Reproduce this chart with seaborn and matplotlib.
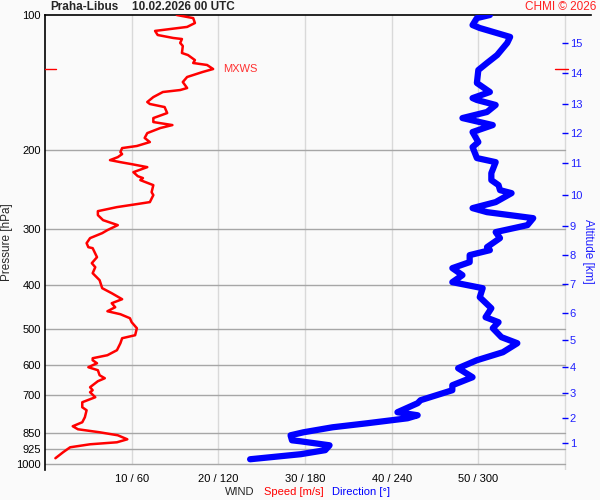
import numpy as np
import matplotlib
matplotlib.use('Agg')
import matplotlib.pyplot as plt
import seaborn as sns
from matplotlib.ticker import NullLocator

# wind speed profile (pressure hPa, speed m/s)
speed_pres = [100.0, 101.6, 104.2, 106.3, 108.5, 110.8, 112.5, 113.1, 115.4, 117.2,
              121.5, 122.8, 126.0, 127.9, 129.2, 131.9, 133.9, 137.4, 141.0, 145.4,
              146.9, 148.4, 152.3, 156.2, 157.8, 160.3, 165.3, 169.6, 173.1, 175.8,
              178.5, 183.2, 187.8, 191.8, 195.7, 197.8, 201.9, 204.0, 207.2, 210.4,
              212.6, 214.8, 218.1, 223.8, 228.4, 230.7, 233.1, 239.2, 248.0, 251.7,
              260.9, 263.6, 267.7, 273.3, 278.9, 286.2, 293.6, 301.2, 305.9, 313.8,
              322.0, 328.7, 330.4, 346.0, 356.8, 364.2, 375.6, 389.3, 405.6, 416.2,
              429.2, 438.1, 447.2, 456.5, 463.5, 473.1, 482.9, 498.0, 516.2, 524.2,
              537.8, 557.4, 571.9, 580.8, 586.8, 595.9, 608.2, 617.6, 633.7, 643.5,
              653.4, 673.8, 684.3, 691.3, 709.3, 727.8, 746.7, 758.3, 785.9, 806.4,
              823.1, 835.9, 848.9, 862.1, 880.0, 893.6, 902.8, 916.8, 940.0, 969.7]
speed = [15.2, 17.1, 17.3, 16.4, 12.7, 13.0, 14.8, 15.8, 15.6, 15.9,
         15.8, 16.5, 17.3, 17.1, 18.7, 19.4, 18.2, 16.4, 15.9, 16.4,
         15.6, 13.6, 12.5, 11.8, 12.1, 13.8, 14.1, 12.5, 12.5, 14.7,
         13.3, 11.8, 11.5, 12.1, 10.6, 8.9, 8.7, 8.9, 8.4, 7.5,
         8.7, 10.0, 11.8, 10.2, 10.7, 11.3, 11.0, 12.5, 12.3, 12.5,
         12.1, 10.6, 8.3, 6.1, 6.1, 6.7, 8.4, 7.2, 6.6, 5.2,
         4.8, 5.0, 5.5, 6.0, 5.4, 5.8, 5.5, 6.3, 6.6, 7.7,
         8.9, 7.7, 8.1, 7.2, 8.7, 9.8, 10.0, 10.6, 10.4, 8.9,
         8.7, 8.3, 7.2, 5.5, 5.5, 6.0, 5.0, 6.1, 6.3, 6.9,
         6.1, 5.2, 5.5, 5.2, 5.8, 4.3, 4.3, 4.8, 4.6, 4.3,
         3.2, 3.8, 6.3, 8.4, 9.5, 8.3, 5.2, 2.9, 2.1, 1.2]

# wind direction profile (pressure hPa, direction deg)
dir_pres = [100.0, 101.6, 105.3, 106.9, 111.9, 115.4, 122.8, 127.9, 132.6, 141.7,
            148.4, 153.1, 154.6, 158.6, 164.4, 169.6, 175.8, 182.2, 191.8, 196.8,
            208.2, 212.6, 224.9, 233.1, 239.2, 245.4, 249.2, 260.9, 269.1, 274.7,
            283.3, 293.6, 304.3, 313.8, 328.7, 333.8, 342.4, 354.9, 366.0, 379.4,
            393.3, 405.6, 424.8, 449.6, 470.7, 482.9, 498.0, 521.4, 537.8, 563.2,
            586.8, 611.3, 640.2, 667.1, 684.3, 720.2, 731.3, 766.0, 778.0, 790.1,
            810.6, 827.5, 848.9, 862.1, 884.6, 889.2, 907.5, 930.4, 949.9, 974.8]
direction = [308, 299, 296, 301, 322, 320, 313, 306, 300, 299,
             308, 296, 299, 312, 306, 289, 310, 296, 300, 296,
             299, 312, 309, 309, 314, 315, 323, 312, 296, 306,
             338, 334, 312, 315, 306, 308, 294, 294, 282, 289,
             282, 303, 301, 309, 305, 314, 310, 316, 327, 317,
             299, 286, 296, 282, 282, 260, 258, 244, 258, 251,
             223, 199, 179, 170, 171, 177, 197, 194, 177, 142]

pres_ticks = [100, 200, 300, 400, 500, 600, 700, 850, 925, 1000]
x_ticks = [10, 20, 30, 40, 50]
x_labels = ['10 / 60', '20 / 120', '30 / 180', '40 / 240', '50 / 300']
alt_km = [1, 2, 3, 4, 5, 6, 7, 8, 9, 10, 11, 12, 13, 14, 15]
alt_pres = [894.9, 787.0, 693.8, 607.3, 529.6, 461.7, 397.3, 342.4, 295.1, 251.7,
            213.9, 183.5, 157.8, 134.9, 115.6]
mxws_pres = 131.9
mxws_speed = 19.4

sns.set_style('white')
plt.rcParams['font.family'] = ['Liberation Sans', 'DejaVu Sans']

BG = '#fafafa'
fig = plt.figure(figsize=(6, 5), dpi=100, facecolor=BG)
ax = fig.add_axes([45 / 600, 1 - 470 / 500, 546 / 600, 455 / 500])
ax.set_facecolor(BG)
ax.set_yscale('log')
ax.set_ylim(1030, 100)
ax.set_xlim(0, 63)

# grid
for x in x_ticks:
    ax.plot([x, x], [1000, 100], color='#d9d9d9', lw=1, zorder=1)
ax.plot([60, 60], [1030, 100], color='#d9d9d9', lw=1, zorder=1)
for p in pres_ticks[1:]:
    ax.plot([0, 60], [p, p], color='#a6a6a6', lw=1, zorder=1)

# direction (scaled to speed axis: 6 deg per m/s)
sns.lineplot(x=np.array(direction) / 6.0, y=dir_pres, sort=False, estimator=None,
             color='#0000ff', lw=4.5, ax=ax, zorder=3,
             solid_capstyle='round', solid_joinstyle='round')
sns.lineplot(x=speed, y=speed_pres, sort=False, estimator=None,
             color='#ff0000', lw=1.8, ax=ax, zorder=4,
             solid_joinstyle='round')

# MXWS marks
ax.plot([0, 1.3], [mxws_pres, mxws_pres], color='#ff0000', lw=1, clip_on=False, zorder=5)
ax.plot([58.8, 60.4], [mxws_pres, mxws_pres], color='#ff0000', lw=1, clip_on=False, zorder=5)
ax.text(mxws_speed + 1.1, mxws_pres, 'MXWS', color='#ff3030', fontsize=8,
        va='center', ha='left')

ax.yaxis.set_minor_locator(NullLocator())
ax.set_yticks(pres_ticks, labels=[str(p) for p in pres_ticks])
ax.set_xticks(x_ticks, labels=x_labels)
ax.tick_params(axis='both', length=0, labelsize=8, colors='black')
ax.tick_params(axis='y', pad=3)
ax.tick_params(axis='x', pad=3)
ax.set_ylabel('Pressure [hPa]', fontsize=8.5)
ax.yaxis.set_label_coords(-0.058, 0.5)
ax.set_xlabel('')
for side in ['right', 'bottom']:
    ax.spines[side].set_visible(False)
ax.spines['left'].set_color('black')
ax.spines['top'].set_color('black')
ax.spines['left'].set_linewidth(1.2)
ax.spines['top'].set_linewidth(1.2)

# altitude axis
ax2 = ax.twinx()
ax2.set_yscale('log')
ax2.set_ylim(1030, 100)
ax2.yaxis.set_minor_locator(NullLocator())
ax2.spines['right'].set_position(('data', 60))
for side in ax2.spines:
    ax2.spines[side].set_visible(False)
ax2.set_yticks(alt_pres, labels=[str(a) for a in alt_km])
ax2.tick_params(axis='y', direction='inout', length=5, width=1, colors='#0000ff',
                labelcolor='#2020ff', labelsize=8, pad=1)
ax2.set_ylabel('Altitude [km]', color='#2020ff', fontsize=8.5, rotation=270)
ax2.yaxis.set_label_coords(1.005, 0.48)

# texts
fig.text(50 / 600, 1 - 7 / 500, 'Praha-Libus', fontsize=8.5, fontweight='bold', va='center')
fig.text(132 / 600, 1 - 7 / 500, '10.02.2026 00 UTC', fontsize=8.5, fontweight='bold', va='center')
fig.text(596 / 600, 1 - 7 / 500, 'CHMI \u00a9 2026', fontsize=8.5, color='#ff2020',
         ha='right', va='center')
fig.text(225 / 600, 1 - 492 / 500, 'WIND', fontsize=8, va='center')
fig.text(264 / 600, 1 - 492 / 500, 'Speed [m/s]', fontsize=8, color='#ff0000', va='center')
fig.text(332 / 600, 1 - 492 / 500, 'Direction [\u00b0]', fontsize=8, color='#0000ff', va='center')

fig.savefig('out.png', dpi=100, facecolor=BG)
